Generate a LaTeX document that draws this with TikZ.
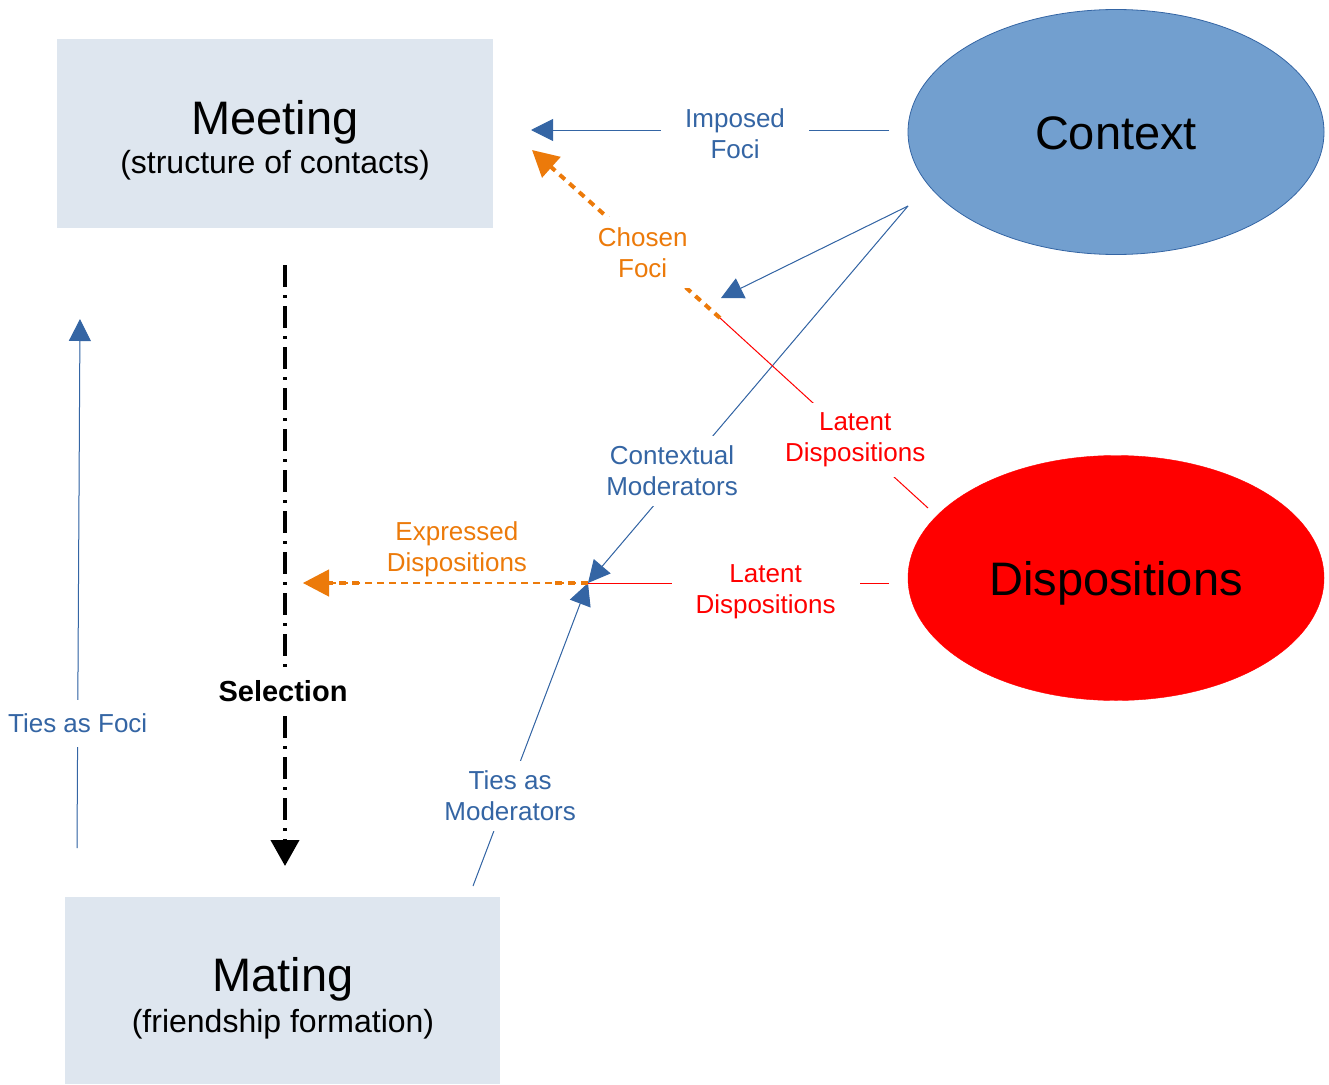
\documentclass[tikz,border=0pt]{standalone}
\usepackage{fontspec}
\setmainfont{Liberation Sans}
\usetikzlibrary{arrows.meta,shapes.geometric}
\definecolor{boxfill}{HTML}{DEE6EF}
\definecolor{ctxfill}{HTML}{729FCF}
\definecolor{linkblue}{HTML}{3465A4}
\definecolor{linkorange}{HTML}{EC7A0A}
\definecolor{linkred}{HTML}{FF0000}
\begin{document}
\begin{tikzpicture}[x=1pt,y=-1pt,
  stagebox/.style={fill=boxfill, inner sep=0pt},
  bigtext/.style={font=\fontsize{47}{54}\selectfont, inner sep=0pt, anchor=base},
  subtext/.style={font=\fontsize{32}{37}\selectfont, inner sep=0pt, anchor=base},
  factor/.style={ellipse, minimum width=416pt, minimum height=245pt, inner sep=0pt,
    text height=35pt, text depth=0pt, font=\fontsize{47}{54}\selectfont},
  lbl/.style={fill=white, inner sep=10pt, align=center, font=\fontsize{26}{31}\selectfont},
  bluelink/.style={draw=linkblue, line width=1pt, -{Triangle[length=22pt,width=22pt]}, fill=linkblue},
  redlink/.style={draw=linkred, line width=1pt},
  orangelink/.style={draw=linkorange, line width=4pt, dash pattern=on 7pt off 6pt,
    -{Triangle[length=26pt,width=27pt,fill=linkorange]}},
  selectlink/.style={draw=black, line width=4pt, dash pattern=on 22pt off 8pt on 3pt off 8pt,
    -{Triangle[length=26pt,width=28pt]}}
]
\useasboundingbox (0,0) rectangle (1329,1084);

% stages
\node[stagebox, minimum width=436pt, minimum height=189pt] (meet) at (275,133.5) {};
\node[bigtext] (meettitle) at (275,134) {Meeting};
\node[subtext] (meetsub) at (275,173) {(structure of contacts)};

\node[stagebox, minimum width=435pt, minimum height=187pt] (mate) at (282.5,990.5) {};
\node[bigtext] (matetitle) at (283,991) {Mating};
\node[subtext] (matesub) at (283,1032) {(friendship formation)};

% factors
\node[factor, fill=ctxfill, draw=linkblue, line width=0.8pt] (ctx) at (1116,132) {Context};
\node[factor, fill=linkred, draw=linkred] (disp) at (1116,578) {Dispositions};

% connector end points
\coordinate (impStart) at (889,130);
\coordinate (impTip) at (531,130);
\coordinate (choTip) at (532,150);
\coordinate (kink) at (720,318);
\coordinate (latStart) at (928,508);
\coordinate (fork) at (908,206);
\coordinate (ctxTip) at (721,298);
\coordinate (J) at (588,583);
\coordinate (tmStart) at (473,886);
\coordinate (latHStart) at (889,583);
\coordinate (expTip) at (303,583);
\coordinate (selStart) at (285,265);
\coordinate (selTip) at (285,866);
\coordinate (tfStart) at (77,848);
\coordinate (tfTip) at (80,319);

% context effects
\draw[bluelink] (impStart) -- node[lbl, pos=0.43, inner xsep=24pt, yshift=-4pt, text=linkblue] {Imposed\\Foci} (impTip);
\draw[bluelink] (fork) -- (ctxTip);
\draw[bluelink] (fork) -- node[lbl, pos=0.703, xshift=-11pt, text=linkblue] {Contextual\\Moderators} (J);

% dispositions
\draw[redlink] (latStart) -- node[lbl, pos=0.374, xshift=5pt, yshift=-3pt, text=linkred] {Latent\\Dispositions} (kink);
\draw[orangelink] (kink) -- node[lbl, pos=0.39, xshift=-4pt, text=linkorange, solid] {Chosen\\Foci} (choTip);
\draw[redlink] (latHStart) -- node[lbl, pos=0.41, yshift=-9pt, inner xsep=24pt, text=linkred] {Latent\\Dispositions} (J);

% ties
\draw[bluelink] (tmStart) -- node[lbl, pos=0.297, xshift=3pt, text=linkblue] {Ties as\\Moderators} (J);
\draw[bluelink] (tfStart) -- node[lbl, pos=0.236, inner ysep=14pt, inner xsep=2pt, text=linkblue] {Ties as Foci} (tfTip);

% expressed dispositions
\draw[draw=linkorange, line width=1.2pt, dash pattern=on 7pt off 5pt,
  -{Triangle[length=26pt,width=27pt,fill=linkorange]}] (J) -- node[pos=0.46, above=2pt, align=center,
  text=linkorange, font=\fontsize{26}{31}\selectfont] (explbl) {Expressed\\Dispositions} (expTip);
\draw[draw=linkorange, line width=4pt, dash pattern=on 7pt off 6pt] (J) -- ([xshift=-34pt]J);
\draw[draw=linkorange, line width=4pt, dash pattern=on 7pt off 6pt] ([xshift=56pt]expTip) -- ([xshift=24pt]expTip);

% selection
\draw[selectlink] (selStart) -- node[pos=0.709, xshift=-2pt, fill=white, inner sep=6pt,
  font=\bfseries\fontsize{29}{33}\selectfont] (sellbl) {Selection} (selTip);
\end{tikzpicture}
\end{document}
